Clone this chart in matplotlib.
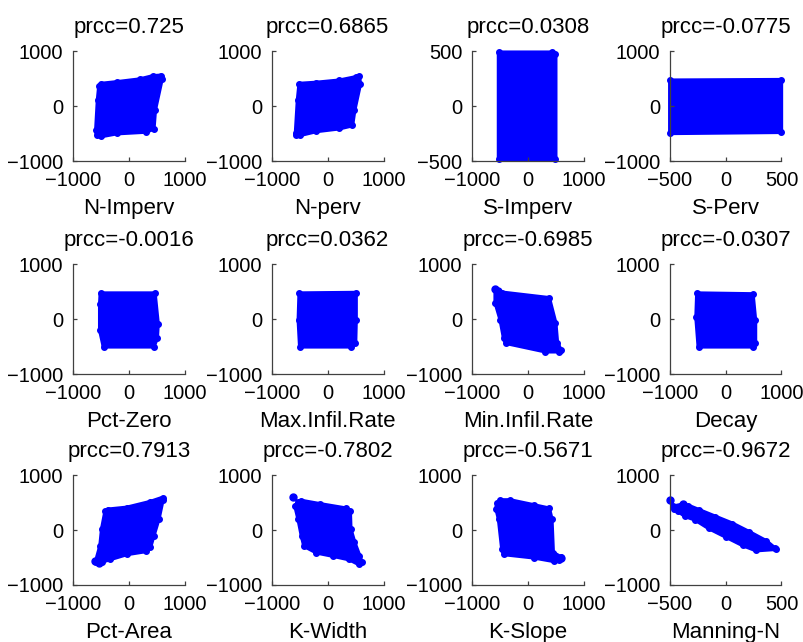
import numpy as np
import matplotlib
matplotlib.use("Agg")
import matplotlib.pyplot as plt

plt.rcParams['font.family'] = ['Liberation Sans', 'DejaVu Sans']

names = ["N-Imperv", "N-perv", "S-Imperv", "S-Perv",
         "Pct-Zero", "Max.Infil.Rate", "Min.Infil.Rate", "Decay",
         "Pct-Area", "K-Width", "K-Slope", "Manning-N"]
prcc = ["0.725", "0.6865", "0.0308", "-0.0775",
        "-0.0016", "0.0362", "-0.6985", "-0.0307",
        "0.7913", "-0.7802", "-0.5671", "-0.9672"]
x_lim = [1000, 1000, 1000, 500,
         1000, 1000, 1000, 1000,
         1000, 1000, 1000, 500]
y_lim = [1000, 1000, 500, 1000,
         1000, 1000, 1000, 1000,
         1000, 1000, 1000, 1000]

# outline of each residual cloud (x, y)
cloud_n_imperv = [(-590, -430), (-560, 110), (-535, 370), (-500, 410), (-220, 440), (190, 490),
                  (430, 550), (580, 560), (585, 490), (465, -70), (440, -410), (310, -465),
                  (-220, -495), (-510, -550), (-580, -525)]
cloud_n_perv = [(-570, -480), (-535, 110), (-505, 410), (-200, 430), (210, 470), (500, 530),
                (565, 555), (580, 400), (480, -70), (440, -350), (210, -405), (-200, -455),
                (-490, -525), (-575, -515)]
cloud_s_imperv = [(-520, -485), (495, -485), (495, 475), (440, 490), (-520, 490)]
cloud_s_perv = [(-497, -490), (497, -470), (497, 480), (-497, 470)]
cloud_pct_zero = [(-510, 470), (460, 470), (515, -80), (500, -350), (440, -500), (-455, -500),
                  (-520, -200), (-520, 270)]
cloud_max_infil = [(-505, 470), (505, 480), (505, -20), (495, -440), (420, -500), (-495, -500),
                   (-520, -20)]
cloud_min_infil = [(-580, 550), (-460, 485), (380, 385), (495, -70), (525, -430), (590, -560),
                   (550, -590), (315, -590), (-395, -435), (-430, -340), (-490, -10), (-580, 300)]
cloud_decay = [(-510, 470), (485, 455), (530, -20), (530, -440), (485, -500), (-485, -500),
               (-525, 30)]
cloud_pct_area = [(-590, -560), (-515, -285), (-485, 20), (-425, 340), (-380, 375), (-40, 410),
                  (380, 515), (600, 590), (600, 540), (530, 205), (440, -100), (380, -310),
                  (300, -385), (-40, -440), (-335, -530), (-480, -575), (-590, -590)]
cloud_k_width = [(-525, 520), (-470, 535), (-140, 475), (330, 395), (400, 340), (410, 20),
                 (480, -225), (570, -470), (610, -590), (565, -625), (390, -535), (95, -470),
                 (-200, -410), (-420, -290), (-465, -100), (-525, 205), (-580, 440)]
cloud_k_slope = [(-550, 490), (-490, 545), (-315, 545), (105, 455), (380, 395), (425, 205),
                 (450, -410), (585, -490), (560, -550), (465, -565), (105, -500), (-430, -440),
                 (-460, -345), (-520, 205), (-565, 390)]
cloud_manning = [(-470, 430), (-394, 462), (-333, 445), (-242, 370), (-91, 245), (61, 120),
                 (212, -35), (364, -200), (440, -330), (450, -345), (273, -370), (152, -275),
                 (0, -120), (-152, 35), (-273, 190), (-364, 255), (-424, 345), (-465, 380)]
clouds = [cloud_n_imperv, cloud_n_perv, cloud_s_imperv, cloud_s_perv,
          cloud_pct_zero, cloud_max_infil, cloud_min_infil, cloud_decay,
          cloud_pct_area, cloud_k_width, cloud_k_slope, cloud_manning]

# stray points at the cloud edges
outliers = {6: [(-583, 557), (-540, 520)],
            8: [(-605, -567), (-540, -600)],
            9: [(-615, 598)],
            10: [(600, -510)],
            11: [(-494, 550), (-380, 470)]}

BLUE = "#0000ff"
AXC = "#404040"

fig = plt.figure(figsize=(8.04, 6.42), dpi=100)
lefts = [0.091, 0.338, 0.587, 0.833]
bottoms = [0.749, 0.4174, 0.0888]
w, h = 0.139, 0.171

for i in range(12):
    r, c = divmod(i, 4)
    ax = fig.add_axes([lefts[c], bottoms[r], w, h])
    pts = np.array(clouds[i])
    poly = ax.fill(pts[:, 0], pts[:, 1], color=BLUE, lw=2.9, clip_on=False)[0]
    poly.set_joinstyle("round")
    # dots along the outline give the ragged edge of the scatter
    ax.plot(pts[:, 0], pts[:, 1], ".", color=BLUE, ms=8, clip_on=False)
    if i in outliers:
        op = np.array(outliers[i])
        ax.plot(op[:, 0], op[:, 1], ".", color=BLUE, ms=10, clip_on=False)

    xl, yl = x_lim[i], y_lim[i]
    ax.set_xlim(-xl, xl)
    ax.set_ylim(-yl, yl)
    ax.set_xticks([-xl, 0, xl])
    ax.set_yticks([-yl, 0, yl])
    ax.spines["top"].set_visible(False)
    ax.spines["right"].set_visible(False)
    for s in ["left", "bottom"]:
        ax.spines[s].set_color(AXC)
        ax.spines[s].set_linewidth(0.9)
    ax.tick_params(direction="in", length=3, width=0.9, color=AXC,
                   labelsize=14.5, pad=7, labelcolor="black")
    ax.set_title("prcc=" + prcc[i], fontsize=16, pad=13)
    ax.set_xlabel(names[i], fontsize=16, labelpad=6)

fig.savefig("out.png", dpi=100)
